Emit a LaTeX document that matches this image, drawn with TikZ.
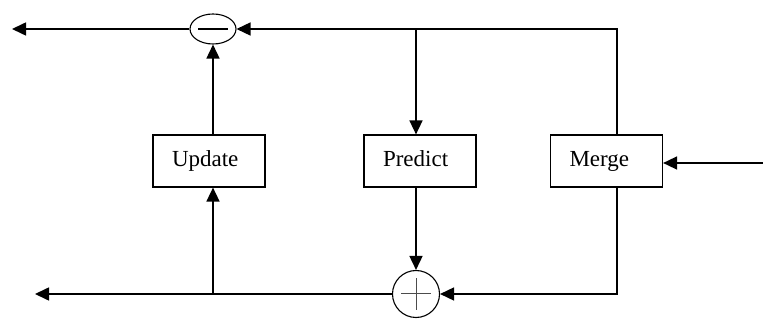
\documentclass[tikz,border=0pt]{standalone}
\usepackage{fontspec}
\setmainfont{Liberation Serif}
\usetikzlibrary{arrows.meta,shapes.geometric}
\tikzset{
  blk/.style={draw,line width=1.2pt,minimum height=52pt,text width=74pt,align=left,
    inner xsep=19pt,inner ysep=0pt,text height=17pt,text depth=5pt,
    font=\fontsize{23}{26}\selectfont},
  sumop/.style={draw,line width=1.1pt,inner sep=0pt}
}
\begin{document}
\begin{tikzpicture}[x=1pt,y=-1pt,>={Triangle[length=14pt,width=13pt]},line width=1.6pt]
\useasboundingbox (0,0) rectangle (763,320);

\node[sumop,ellipse,minimum width=46pt,minimum height=30pt] (sub) at (213,29) {\rule[-0.6pt]{30pt}{1.2pt}};
\node[sumop,circle,minimum size=47pt,path picture={
  \draw[line width=1pt,black!70] ([xshift=-15pt]path picture bounding box.center) -- ([xshift=15pt]path picture bounding box.center)
    ([yshift=-16pt]path picture bounding box.center) -- ([yshift=16pt]path picture bounding box.center);}] (add) at (416,294) {};

\node[blk] (upd)  at (209,161)   {Update};
\node[blk] (pred) at (420,161)   {Predict};
\node[blk] (mrg)  at (606.5,161) {Merge};

\coordinate (ot) at (12,29);
\coordinate (ob) at (35,294);
\coordinate (tr) at (617,29);
\coordinate (br) at (617,294);
\coordinate (in) at (763,163);

\draw[->] (sub.west) -- (ot);
\draw[->] (mrg.north -| tr) -- (tr) -- (sub.east);
\draw[->] (tr -| add) -- (pred.north -| add);
\draw[->] (pred.south -| add) -- (add.north);
\draw[->] (mrg.south -| br) -- (br) -- (add.east);
\draw[->] (add.west) -- (ob);
\draw[->] (ob -| sub) -- (upd.south -| sub);
\draw[->] (upd.north -| sub) -- (sub.south);
\draw[->] (in) -- (in -| mrg.east);

\end{tikzpicture}
\end{document}
